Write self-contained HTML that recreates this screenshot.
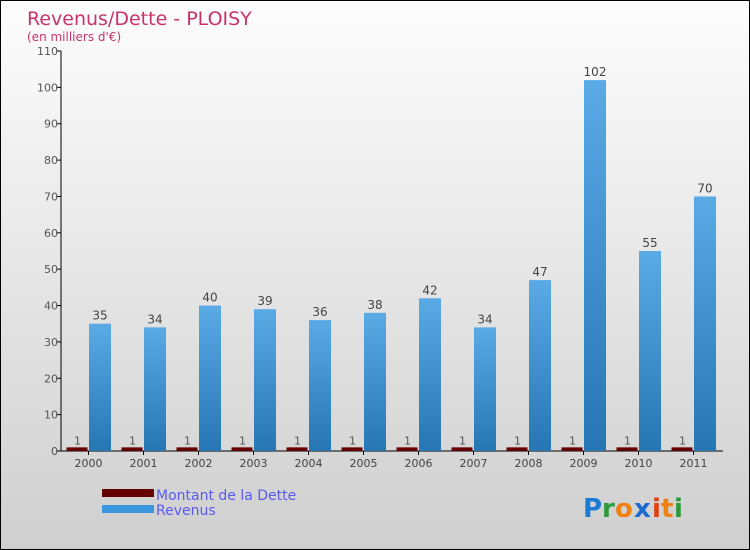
<!DOCTYPE html>
<html><head><meta charset="utf-8"><style>
body{margin:0}
#c{width:750px;height:550px;position:relative;box-sizing:border-box;border:1px solid #000;background:linear-gradient(#fdfdfd,#cfcfcf);font-family:"DejaVu Sans","Liberation Sans",sans-serif;overflow:hidden}
</style></head><body>
<div id="c">
<svg width="750" height="550" style="position:absolute;left:0;top:0">
<defs>
<linearGradient id="gb" x1="0" y1="0" x2="0" y2="1"><stop offset="0" stop-color="#5aaae6"/><stop offset="1" stop-color="#2676b4"/></linearGradient>
</defs>
<text x="26" y="24" font-size="19" fill="#c8336a">Revenus/Dette - PLOISY</text>
<text x="26" y="40" font-size="12" fill="#c8336a">(en milliers d'€)</text>
<g id="ax"></g><g id="bars"></g>
<rect x="101" y="488" width="52" height="8" fill="#650000"/>
<text x="155" y="499" font-size="14" fill="#5a5af0">Montant de la Dette</text>
<rect x="101" y="504" width="52" height="8" fill="#3a96dc"/>
<text x="155" y="514" font-size="14" fill="#5a5af0">Revenus</text>
<g font-size="26" font-weight="bold">
<text x="582" y="516" fill="#1a7ad4">P</text><text x="601" y="516" fill="#2a9a3a">r</text><text x="614" y="516" fill="#f08010">o</text><text x="633" y="516" fill="#1a6ad0">x</text><text x="651" y="516" fill="#e04010">i</text><text x="660" y="516" fill="#f08010">t</text><text x="673" y="516" fill="#2a9a3a">i</text>
</g>
</svg>
</div>
<script>
const categories=["2000","2001","2002","2003","2004","2005","2006","2007","2008","2009","2010","2011"];
const revenus=[35,34,40,39,36,38,42,34,47,102,55,70];
const dette=[1,1,1,1,1,1,1,1,1,1,1,1];
const yTicks=[0,10,20,30,40,50,60,70,80,90,100,110];
const NS="http://www.w3.org/2000/svg";
const y0=450,yTop=50,yMax=110,x0=60,band=55,first=87.5;
const y=v=>y0-(v/yMax)*(y0-yTop);
const xc=i=>first+i*band;
const ax=document.getElementById('ax'),bars=document.getElementById('bars');
function mk(tag,attrs,parent){const e=document.createElementNS(NS,tag);for(const k in attrs)e.setAttribute(k,attrs[k]);parent.appendChild(e);return e;}
let l=mk('line',{x1:x0,y1:yTop,x2:x0,y2:y0,stroke:'#000'},ax);


l=mk('line',{x1:x0,y1:y0,x2:722,y2:y0,stroke:'#000'},ax);


yTicks.forEach(t=>{
 const tk=mk('line',{x1:x0-4,y1:y(t),x2:x0,y2:y(t),stroke:'#000'},ax);
 
 
 const tx=mk('text',{x:x0-3,y:y(t)+4,'font-size':11,fill:'#555','text-anchor':'end'},ax);
 tx.textContent=t;
 
 
});
categories.forEach((c,i)=>{
 const cx=xc(i);
 const tk=mk('line',{x1:cx,y1:y0,x2:cx,y2:y0+4,stroke:'#000'},ax);
 
 
 const tx=mk('text',{x:cx,y:y0+16,'font-size':11,fill:'#444','text-anchor':'middle'},ax);
 tx.textContent=c;
 
 
 const d=mk('rect',{x:cx-22,y:y(dette[i]),width:21,height:y0-y(dette[i]),fill:'#650000'},bars);
 
 
 const dl=mk('text',{x:cx-11,y:y(dette[i])-3,'font-size':11,fill:'#555','text-anchor':'middle'},bars);
 dl.textContent=dette[i];
 
 
 const r=mk('rect',{x:cx+0.5,y:y(revenus[i]),width:22,height:y0-y(revenus[i]),fill:'url(#gb)'},bars);
 
 
 const rl=mk('text',{x:cx+11.5,y:y(revenus[i])-4,'font-size':12,fill:'#444','text-anchor':'middle'},bars);
 rl.textContent=revenus[i];
 
 
});
</script>
</body></html>
